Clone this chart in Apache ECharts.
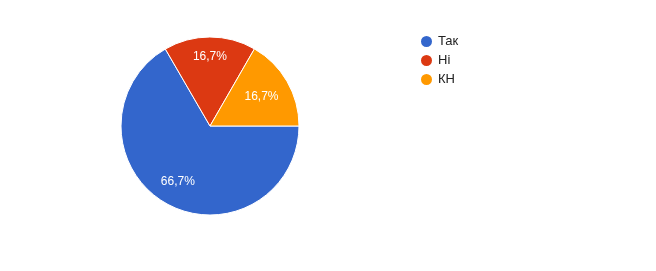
<!DOCTYPE html>
<html>
<head>
<meta charset="utf-8">
<script src="https://cdn.jsdelivr.net/npm/echarts@6/dist/echarts.min.js"></script>
<style>
  html, body { margin: 0; padding: 0; background: #fff; }
  #chart { width: 656px; height: 271px; }
</style>
</head>
<body>
<div id="chart"></div>
<script>
// Answer categories and their shares (percent)
const categories = ['Так', 'Ні', 'КН'];
const values = [66.7, 16.7, 16.7];
const colors = ['#3366cc', '#dc3912', '#ff9900'];
// Extra outward shift (px) of each slice label beyond the mid-radius
const labelPush = [17, 22, 12];

const total = values.reduce((a, b) => a + b, 0);
const START = 0; // degrees, pie drawn clockwise from 3 o'clock

function midAngle(i) {
  let acc = 0;
  for (let k = 0; k < i; k++) acc += values[k];
  const mid = acc + values[i] / 2;
  return (START - (mid / total) * 360) * Math.PI / 180;
}

const chart = echarts.init(document.getElementById('chart'), null, { renderer: 'canvas' });
chart.setOption({
  animation: false,
  legend: {
    orient: 'vertical',
    left: 419,
    top: 34,
    padding: 0,
    icon: 'circle',
    itemWidth: 13,
    itemHeight: 13,
    itemGap: 4,
    textStyle: { color: '#222', fontSize: 13, fontFamily: 'Arial, "Liberation Sans", sans-serif' },
    data: categories
  },
  series: [{
    type: 'pie',
    center: [210, 126],
    radius: 89,
    startAngle: START,
    clockwise: true,
    color: colors,
    itemStyle: { borderColor: '#fff', borderWidth: 1 },
    label: {
      show: true,
      position: 'inside',
      color: '#fff',
      fontSize: 12,
      fontFamily: 'Arial, "Liberation Sans", sans-serif',
      formatter: p => p.value.toFixed(1).replace('.', ',') + '%'
    },
    labelLine: { show: false },
    emphasis: { disabled: true },
    labelLayout: function (p) {
      const a = midAngle(p.dataIndex);
      const d = labelPush[p.dataIndex];
      return { dx: Math.cos(a) * d, dy: -Math.sin(a) * d };
    },
    data: categories.map((c, i) => ({ name: c, value: values[i] }))
  }]
});
</script>
</body>
</html>
